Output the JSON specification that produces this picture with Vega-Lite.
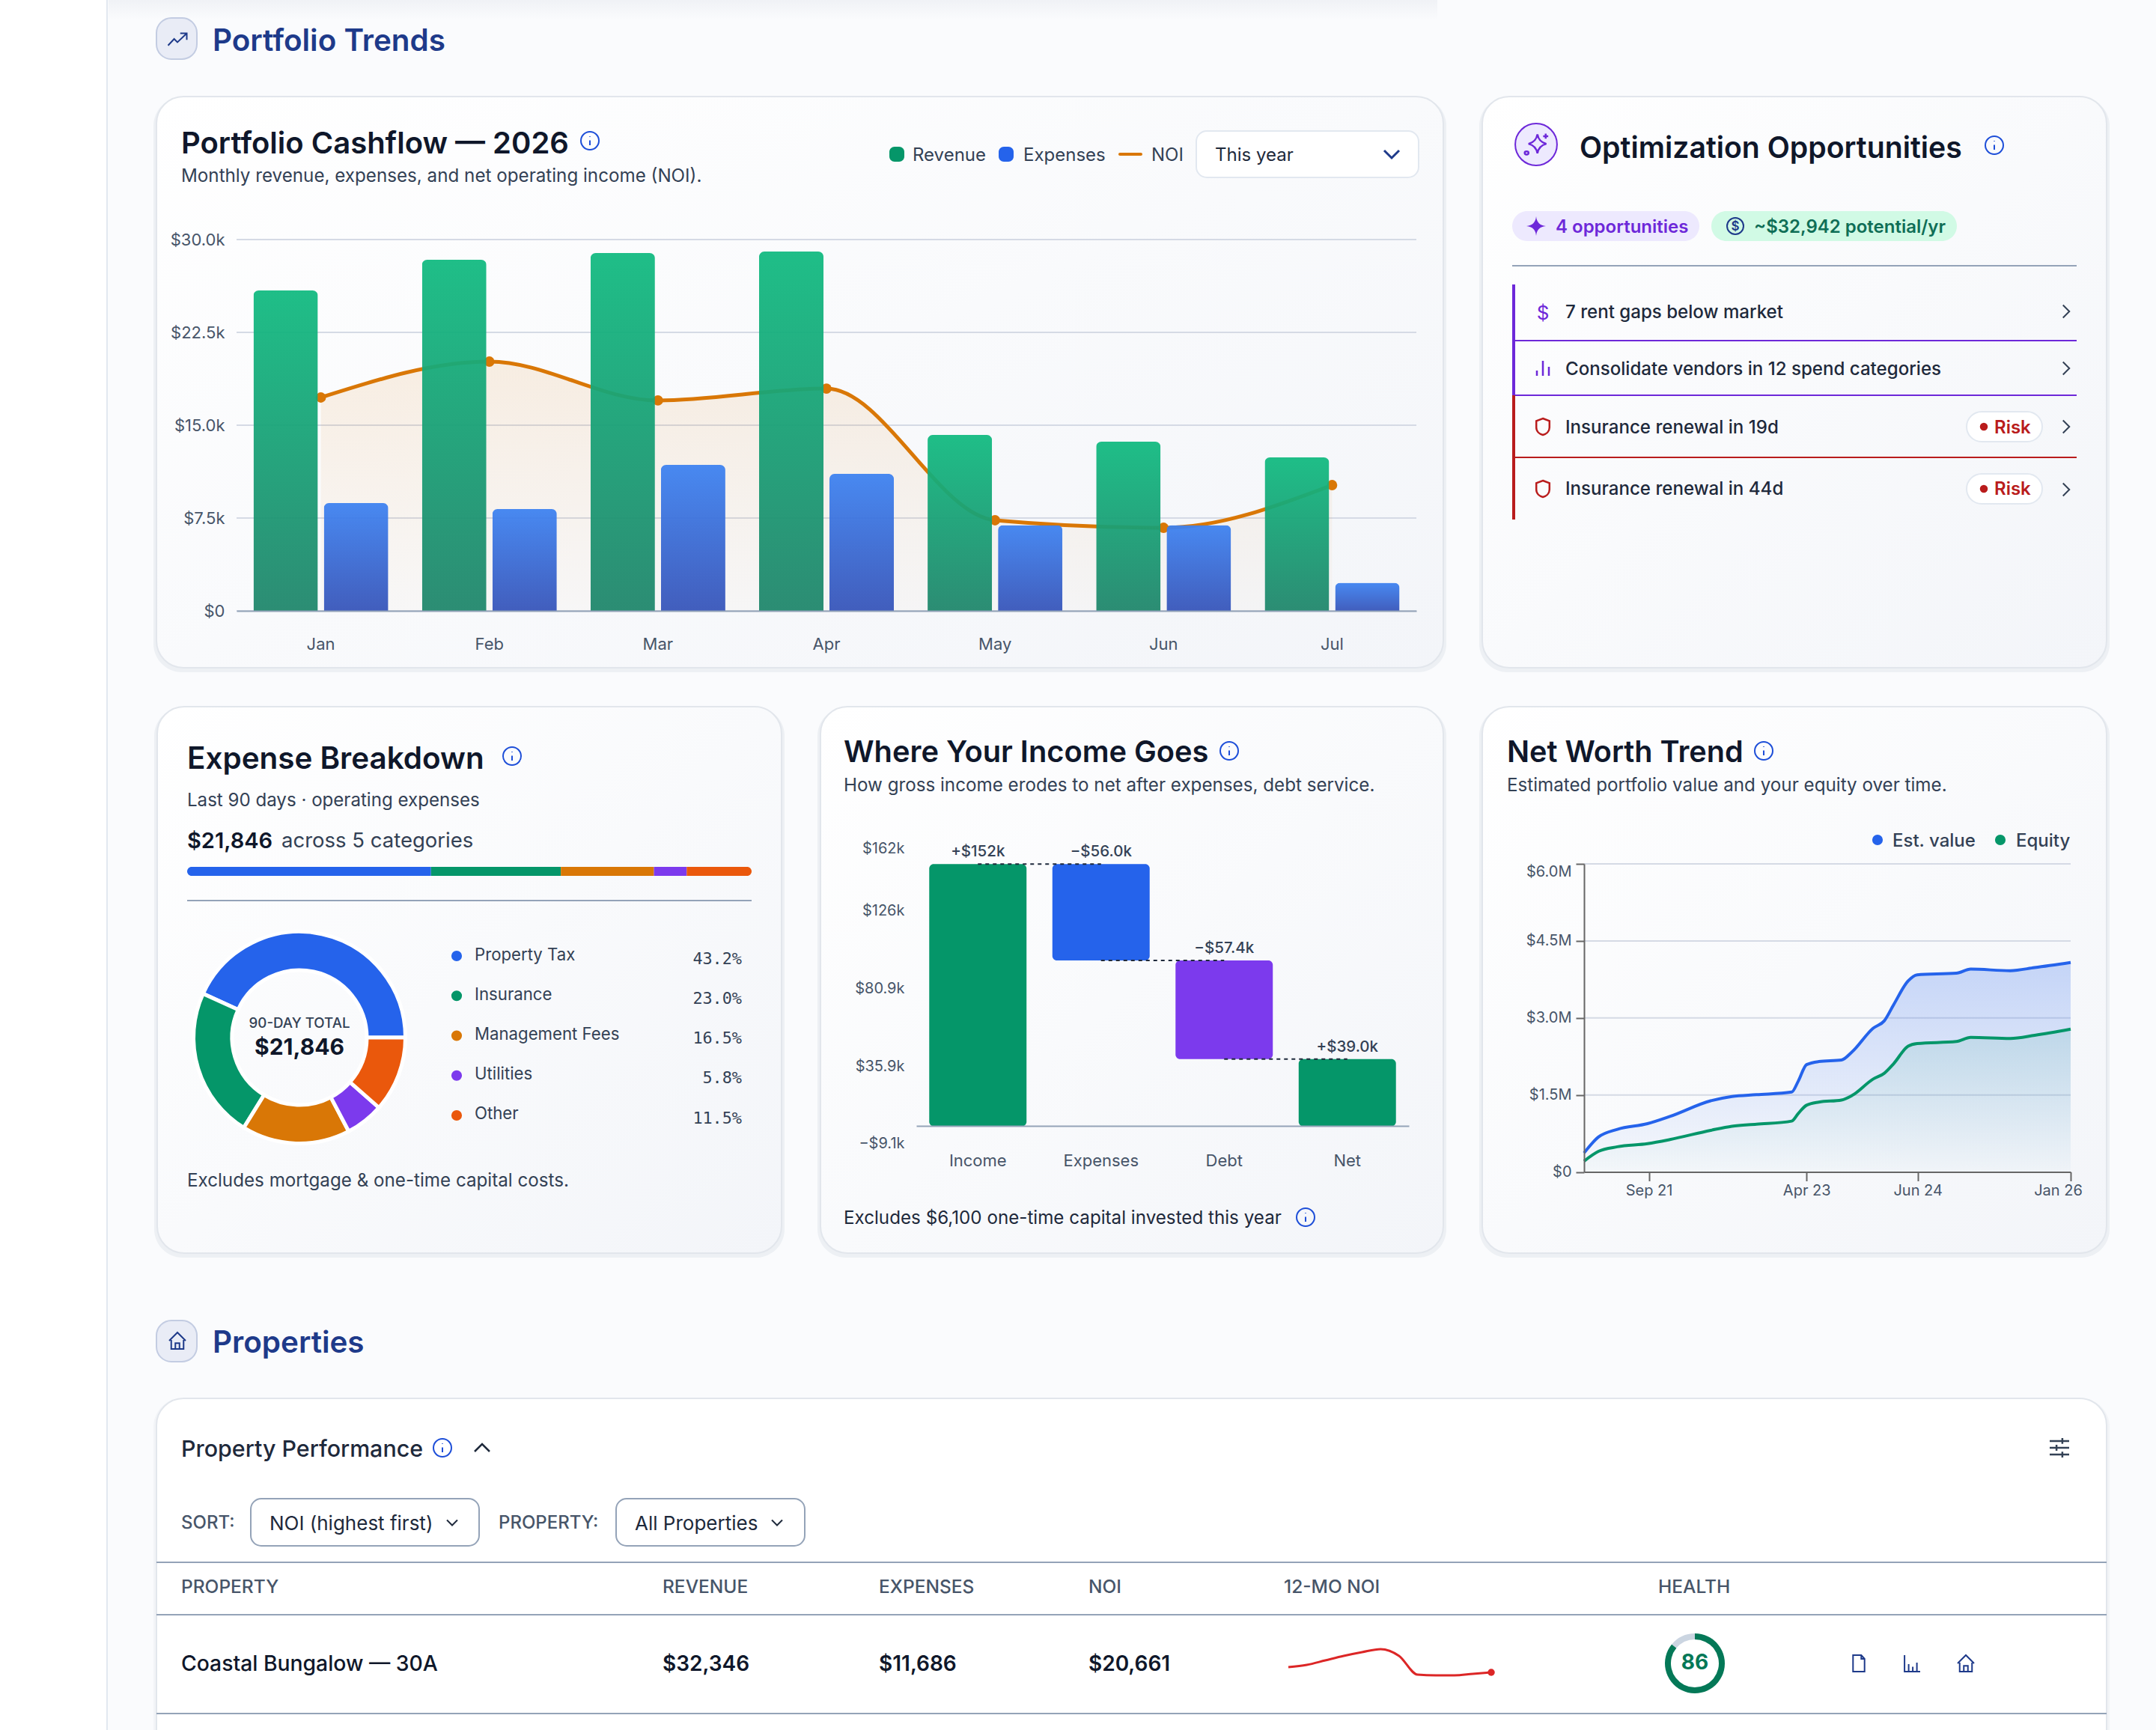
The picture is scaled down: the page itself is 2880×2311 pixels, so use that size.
{
"$schema":"https://vega.github.io/schema/vega-lite/v6.json",
"autosize":"none","padding":0,"width":2880,"height":2311,"background":"#fafbfd",
"config":{"font":"Inter","view":{"stroke":null},"axis":{"labelFont":"Inter"},"text":{"dy":1.5}},
"resolve":{"scale":{"x":"independent","y":"independent","color":"independent","theta":"independent"}},
"datasets":{
"expenses":[
{"category":"Property Tax","share":43.2,"pct":"43.2%","rank":1},
{"category":"Insurance","share":23.0,"pct":"23.0%","rank":2},
{"category":"Management Fees","share":16.5,"pct":"16.5%","rank":3},
{"category":"Utilities","share":5.8,"pct":"5.8%","rank":4},
{"category":"Other","share":11.5,"pct":"11.5%","rank":5}],
"cashflow":[
{"month":"Jan","series":"Revenue","amount":25887},{"month":"Feb","series":"Revenue","amount":28367},{"month":"Mar","series":"Revenue","amount":28911},{"month":"Apr","series":"Revenue","amount":29032},{"month":"May","series":"Revenue","amount":14214},{"month":"Jun","series":"Revenue","amount":13669},{"month":"Jul","series":"Revenue","amount":12399},
{"month":"Jan","series":"Expenses","amount":8710},{"month":"Feb","series":"Expenses","amount":8226},{"month":"Mar","series":"Expenses","amount":11794},{"month":"Apr","series":"Expenses","amount":11069},{"month":"May","series":"Expenses","amount":6925},{"month":"Jun","series":"Expenses","amount":6925},{"month":"Jul","series":"Expenses","amount":2262},
{"month":"Jan","series":"NOI","amount":17238},{"month":"Feb","series":"NOI","amount":20141},{"month":"Mar","series":"NOI","amount":17000},{"month":"Apr","series":"NOI","amount":17960},{"month":"May","series":"NOI","amount":7319},{"month":"Jun","series":"NOI","amount":6713},{"month":"Jul","series":"NOI","amount":10161}],
"networth":[
{"date":"2021-01-15","value":0.37,"equity":0.21},{"date":"2021-03-10","value":0.68,"equity":0.40},{"date":"2021-05-20","value":0.83,"equity":0.49},{"date":"2021-09-10","value":0.94,"equity":0.55},{"date":"2021-12-03","value":1.08,"equity":0.63},{"date":"2022-05-05","value":1.385,"equity":0.81},{"date":"2022-07-24","value":1.47,"equity":0.89},{"date":"2022-10-24","value":1.505,"equity":0.93},{"date":"2023-03-05","value":1.555,"equity":0.99},{"date":"2023-03-30","value":1.77,"equity":1.14},{"date":"2023-04-30","value":2.09,"equity":1.30},{"date":"2023-06-15","value":2.15,"equity":1.36},{"date":"2023-09-08","value":2.18,"equity":1.40},{"date":"2023-10-18","value":2.34,"equity":1.49},{"date":"2024-01-05","value":2.80,"equity":1.81},{"date":"2024-02-15","value":2.94,"equity":1.92},{"date":"2024-03-22","value":3.26,"equity":2.11},{"date":"2024-05-15","value":3.72,"equity":2.45},{"date":"2024-06-18","value":3.84,"equity":2.50},{"date":"2024-11-12","value":3.87,"equity":2.54},{"date":"2025-01-05","value":3.95,"equity":2.62},{"date":"2025-06-02","value":3.92,"equity":2.60},{"date":"2025-09-02","value":3.98,"equity":2.66},{"date":"2026-01-15","value":4.08,"equity":2.78}]
},
"layer":[
{"data":{"values":[{"name":"sidebar"}]},"mark":{"type":"rect","fill":"#ffffff","stroke":"#e2e8f0","strokeWidth":2},"encoding":{"x":{"field":"name","type":"nominal","axis":null,"scale":{"type":"band","range":[-4,143],"padding":0}},"y":{"field":"name","type":"nominal","axis":null,"scale":{"type":"band","range":[-4,2320],"padding":0}}}},
{"data":{"values":[{"name":"header shadow"}]},"mark":{"type":"rect","fill":{"gradient":"linear","x1":0,"y1":0,"x2":0,"y2":1,"stops":[{"offset":0,"color":"#f0f2f6"},{"offset":1,"color":"#fafbfd"}]}},"encoding":{"x":{"field":"name","type":"nominal","axis":null,"scale":{"type":"band","range":[145,1920],"padding":0}},"y":{"field":"name","type":"nominal","axis":null,"scale":{"type":"band","range":[0,26],"padding":0}}}},

{"data":{"values":[{"name":"a"}]},"mark":{"type":"rect","fill":"#94a3b8","opacity":0.12,"cornerRadius":38},"encoding":{"x":{"field":"name","type":"nominal","axis":null,"scale":{"type":"band","range":[205,1932],"padding":0}},"y":{"field":"name","type":"nominal","axis":null,"scale":{"type":"band","range":[130,898],"padding":0}}}},
{"data":{"values":[{"name":"Cashflow card"}]},"mark":{"type":"rect","cornerRadius":36,"stroke":"#e2e6ec","strokeWidth":2,"fill":{"gradient":"linear","x1":0,"y1":0,"x2":1,"y2":1,"stops":[{"offset":0,"color":"#ffffff"},{"offset":1,"color":"#f3f5f9"}]}},"encoding":{"x":{"field":"name","type":"nominal","axis":null,"scale":{"type":"band","range":[209,1928],"padding":0}},"y":{"field":"name","type":"nominal","axis":null,"scale":{"type":"band","range":[129,892],"padding":0}}}},
{"data":{"values":[{"name":"a"}]},"mark":{"type":"rect","fill":"#94a3b8","opacity":0.12,"cornerRadius":38},"encoding":{"x":{"field":"name","type":"nominal","axis":null,"scale":{"type":"band","range":[1976,2818],"padding":0}},"y":{"field":"name","type":"nominal","axis":null,"scale":{"type":"band","range":[130,898],"padding":0}}}},
{"data":{"values":[{"name":"Opportunities card"}]},"mark":{"type":"rect","cornerRadius":36,"stroke":"#e2e6ec","strokeWidth":2,"fill":{"gradient":"linear","x1":0,"y1":0,"x2":1,"y2":1,"stops":[{"offset":0,"color":"#ffffff"},{"offset":1,"color":"#f3f5f9"}]}},"encoding":{"x":{"field":"name","type":"nominal","axis":null,"scale":{"type":"band","range":[1980,2814],"padding":0}},"y":{"field":"name","type":"nominal","axis":null,"scale":{"type":"band","range":[129,892],"padding":0}}}},
{"data":{"values":[{"name":"a"}]},"mark":{"type":"rect","fill":"#94a3b8","opacity":0.12,"cornerRadius":38},"encoding":{"x":{"field":"name","type":"nominal","axis":null,"scale":{"type":"band","range":[206,1048],"padding":0}},"y":{"field":"name","type":"nominal","axis":null,"scale":{"type":"band","range":[945,1680],"padding":0}}}},
{"data":{"values":[{"name":"Expense card"}]},"mark":{"type":"rect","cornerRadius":36,"stroke":"#e2e6ec","strokeWidth":2,"fill":{"gradient":"linear","x1":0,"y1":0,"x2":1,"y2":1,"stops":[{"offset":0,"color":"#ffffff"},{"offset":1,"color":"#f3f5f9"}]}},"encoding":{"x":{"field":"name","type":"nominal","axis":null,"scale":{"type":"band","range":[210,1044],"padding":0}},"y":{"field":"name","type":"nominal","axis":null,"scale":{"type":"band","range":[944,1674],"padding":0}}}},
{"data":{"values":[{"name":"a"}]},"mark":{"type":"rect","fill":"#94a3b8","opacity":0.12,"cornerRadius":38},"encoding":{"x":{"field":"name","type":"nominal","axis":null,"scale":{"type":"band","range":[1092,1932],"padding":0}},"y":{"field":"name","type":"nominal","axis":null,"scale":{"type":"band","range":[945,1680],"padding":0}}}},
{"data":{"values":[{"name":"Income card"}]},"mark":{"type":"rect","cornerRadius":36,"stroke":"#e2e6ec","strokeWidth":2,"fill":{"gradient":"linear","x1":0,"y1":0,"x2":1,"y2":1,"stops":[{"offset":0,"color":"#ffffff"},{"offset":1,"color":"#f3f5f9"}]}},"encoding":{"x":{"field":"name","type":"nominal","axis":null,"scale":{"type":"band","range":[1096,1928],"padding":0}},"y":{"field":"name","type":"nominal","axis":null,"scale":{"type":"band","range":[944,1674],"padding":0}}}},
{"data":{"values":[{"name":"a"}]},"mark":{"type":"rect","fill":"#94a3b8","opacity":0.12,"cornerRadius":38},"encoding":{"x":{"field":"name","type":"nominal","axis":null,"scale":{"type":"band","range":[1976,2818],"padding":0}},"y":{"field":"name","type":"nominal","axis":null,"scale":{"type":"band","range":[945,1680],"padding":0}}}},
{"data":{"values":[{"name":"Net worth card"}]},"mark":{"type":"rect","cornerRadius":36,"stroke":"#e2e6ec","strokeWidth":2,"fill":{"gradient":"linear","x1":0,"y1":0,"x2":1,"y2":1,"stops":[{"offset":0,"color":"#ffffff"},{"offset":1,"color":"#f3f5f9"}]}},"encoding":{"x":{"field":"name","type":"nominal","axis":null,"scale":{"type":"band","range":[1980,2814],"padding":0}},"y":{"field":"name","type":"nominal","axis":null,"scale":{"type":"band","range":[944,1674],"padding":0}}}},
{"data":{"values":[{"name":"a"}]},"mark":{"type":"rect","fill":"#94a3b8","opacity":0.08,"cornerRadius":38},"encoding":{"x":{"field":"name","type":"nominal","axis":null,"scale":{"type":"band","range":[205,2818],"padding":0}},"y":{"field":"name","type":"nominal","axis":null,"scale":{"type":"band","range":[1868,2360],"padding":0}}}},
{"data":{"values":[{"name":"Property card"}]},"mark":{"type":"rect","cornerRadius":36,"stroke":"#e2e6ec","strokeWidth":2,"fill":"#ffffff"},"encoding":{"x":{"field":"name","type":"nominal","axis":null,"scale":{"type":"band","range":[209,2814],"padding":0}},"y":{"field":"name","type":"nominal","axis":null,"scale":{"type":"band","range":[1868,2360],"padding":0}}}},

{"data":{"values":[{"name":"Portfolio Trends icon"}]},"mark":{"type":"rect","cornerRadius":20,"fill":"#e9ecf6","stroke":"#c3cce2","strokeWidth":2},"encoding":{"x":{"field":"name","type":"nominal","axis":null,"scale":{"type":"band","range":[209,263],"padding":0}},"y":{"field":"name","type":"nominal","axis":null,"scale":{"type":"band","range":[24,79],"padding":0}}}},
{"data":{"values":[{"name":"trend"}]},"mark":{"type":"point","shape":"M-1,0.7L-0.35,0L0,0.35L1,-0.6M0.3,-0.6L1,-0.6L1,0.1","size":625,"filled":false,"opacity":1,"stroke":"#1e3a8a","strokeWidth":2},"encoding":{"x":{"field":"name","type":"nominal","axis":null,"scale":{"range":[237,237]}},"y":{"field":"name","type":"nominal","axis":null,"scale":{"range":[52,52]}}}},
{"data":{"values":[{"label":"Portfolio Trends"}]},"mark":{"type":"text","align":"left","baseline":"alphabetic","fontSize":40.4,"fontWeight":600,"color":"#1e3a8a"},"encoding":{"x":{"field":"label","type":"nominal","axis":null,"scale":{"range":[284,284]}},"y":{"field":"label","type":"nominal","axis":null,"scale":{"range":[66,66]}},"text":{"field":"label"}}},

{"data":{"values":[{"label":"Portfolio Cashflow — 2026"}]},"mark":{"type":"text","align":"left","baseline":"alphabetic","fontSize":40,"fontWeight":600,"color":"#0f172a"},"encoding":{"x":{"field":"label","type":"nominal","axis":null,"scale":{"range":[242,242]}},"y":{"field":"label","type":"nominal","axis":null,"scale":{"range":[203,203]}},"text":{"field":"label"}}},
{"data":{"values":[{"name":"info"}]},"mark":{"type":"point","shape":"M-1,0C-1,-0.55 -0.55,-1 0,-1C0.55,-1 1,-0.55 1,0C1,0.55 0.55,1 0,1C-0.55,1 -1,0.55 -1,0ZM0,-0.05L0,0.5M0,-0.48L0,-0.42","size":576,"filled":false,"opacity":1,"stroke":"#1d4ed8","strokeWidth":2},"encoding":{"x":{"field":"name","type":"nominal","axis":null,"scale":{"range":[788,788]}},"y":{"field":"name","type":"nominal","axis":null,"scale":{"range":[188,188]}}}},
{"data":{"values":[{"label":"Monthly revenue, expenses, and net operating income (NOI)."}]},"mark":{"type":"text","align":"left","baseline":"middle","fontSize":24.2,"color":"#334155"},"encoding":{"x":{"field":"label","type":"nominal","axis":null,"scale":{"range":[242,242]}},"y":{"field":"label","type":"nominal","axis":null,"scale":{"range":[234,234]}},"text":{"field":"label"}}},

{"data":{"values":[{"name":"Revenue"}]},"mark":{"type":"rect","cornerRadius":7,"fill":"#059669"},"encoding":{"x":{"field":"name","type":"nominal","axis":null,"scale":{"type":"band","range":[1188,1208],"padding":0}},"y":{"field":"name","type":"nominal","axis":null,"scale":{"type":"band","range":[196,216],"padding":0}}}},
{"data":{"values":[{"label":"Revenue"}]},"mark":{"type":"text","align":"left","baseline":"middle","fontSize":24,"color":"#334155"},"encoding":{"x":{"field":"label","type":"nominal","axis":null,"scale":{"range":[1219,1219]}},"y":{"field":"label","type":"nominal","axis":null,"scale":{"range":[206,206]}},"text":{"field":"label"}}},
{"data":{"values":[{"name":"Expenses"}]},"mark":{"type":"rect","cornerRadius":7,"fill":"#2563eb"},"encoding":{"x":{"field":"name","type":"nominal","axis":null,"scale":{"type":"band","range":[1334,1354],"padding":0}},"y":{"field":"name","type":"nominal","axis":null,"scale":{"type":"band","range":[196,216],"padding":0}}}},
{"data":{"values":[{"label":"Expenses"}]},"mark":{"type":"text","align":"left","baseline":"middle","fontSize":24,"color":"#334155"},"encoding":{"x":{"field":"label","type":"nominal","axis":null,"scale":{"range":[1367,1367]}},"y":{"field":"label","type":"nominal","axis":null,"scale":{"range":[206,206]}},"text":{"field":"label"}}},
{"data":{"values":[{"name":"NOI"}]},"mark":{"type":"rect","cornerRadius":2,"fill":"#d97706"},"encoding":{"x":{"field":"name","type":"nominal","axis":null,"scale":{"type":"band","range":[1494,1526],"padding":0}},"y":{"field":"name","type":"nominal","axis":null,"scale":{"type":"band","range":[204,208],"padding":0}}}},
{"data":{"values":[{"label":"NOI"}]},"mark":{"type":"text","align":"left","baseline":"middle","fontSize":24,"color":"#334155"},"encoding":{"x":{"field":"label","type":"nominal","axis":null,"scale":{"range":[1538,1538]}},"y":{"field":"label","type":"nominal","axis":null,"scale":{"range":[206,206]}},"text":{"field":"label"}}},
{"data":{"values":[{"name":"This year box"}]},"mark":{"type":"rect","cornerRadius":14,"fill":"#ffffff","stroke":"#e2e8f0","strokeWidth":2},"encoding":{"x":{"field":"name","type":"nominal","axis":null,"scale":{"type":"band","range":[1598,1895],"padding":0}},"y":{"field":"name","type":"nominal","axis":null,"scale":{"type":"band","range":[175,237],"padding":0}}}},
{"data":{"values":[{"label":"This year"}]},"mark":{"type":"text","align":"left","baseline":"middle","fontSize":24,"color":"#1e293b"},"encoding":{"x":{"field":"label","type":"nominal","axis":null,"scale":{"range":[1623,1623]}},"y":{"field":"label","type":"nominal","axis":null,"scale":{"range":[206,206]}},"text":{"field":"label"}}},
{"data":{"values":[{"name":"chevron"}]},"mark":{"type":"point","shape":"M-1,-0.5L0,0.5L1,-0.5","size":400,"filled":false,"opacity":1,"stroke":"#1e3a8a","strokeWidth":3},"encoding":{"x":{"field":"name","type":"nominal","axis":null,"scale":{"range":[1859,1859]}},"y":{"field":"name","type":"nominal","axis":null,"scale":{"range":[206,206]}}}},

{"data":{"values":[{"tick":0},{"tick":7500},{"tick":15000},{"tick":22500},{"tick":30000}]},"mark":{"type":"rule","color":"#d5dae5","strokeWidth":2},"encoding":{"x":{"datum":0,"type":"quantitative","axis":null,"scale":{"domain":[0,1],"range":[316,1892]}},"x2":{"datum":1},"y":{"field":"tick","type":"quantitative","axis":null,"scale":{"domain":[0,30000],"range":[816,320]}}}},
{"data":{"name":"cashflow"},
"encoding":{
"x":{"field":"month","type":"nominal","sort":null,"title":null,"scale":{"type":"band","range":[316,1892],"paddingInner":0.2,"paddingOuter":0.1},"axis":{"orient":"bottom","offset":-1495,"zindex":1,"labelAngle":0,"labelPadding":34,"labelFontSize":22,"labelColor":"#475569","ticks":false,"domainColor":"#94a3b8","domainWidth":2}},
"y":{"field":"amount","type":"quantitative","title":null,"scale":{"domain":[0,30000],"range":[816,320],"nice":false},"axis":{"orient":"left","offset":-316,"zindex":1,"grid":false,"domain":false,"ticks":false,"labelPadding":16,"labelFontSize":22,"labelColor":"#475569","values":[0,7500,15000,22500,30000],"labelExpr":"datum.value==0?'$0':'$'+format(datum.value/1000,'.1f')+'k'"}}},
"layer":[
{"transform":[{"filter":"datum.series=='NOI'"}],"mark":{"type":"area","interpolate":"monotone","fill":{"gradient":"linear","x1":0,"y1":0,"x2":0,"y2":1,"stops":[{"offset":0,"color":"rgba(217,119,6,0.11)"},{"offset":1,"color":"rgba(217,119,6,0.02)"}]}}},
{"transform":[{"filter":"datum.series=='NOI'"}],"mark":{"type":"line","interpolate":"monotone","color":"#d97706","strokeWidth":5}},
{"transform":[{"filter":"datum.series=='NOI'"}],"mark":{"type":"point","filled":true,"color":"#d97706","size":190,"opacity":1}},
{"transform":[{"filter":"datum.series=='Revenue'"}],"mark":{"type":"bar","opacity":0.94,"cornerRadiusTopLeft":7,"cornerRadiusTopRight":7,"fill":{"gradient":"linear","x1":0,"y1":0,"x2":0,"y2":1,"stops":[{"offset":0,"color":"#11ba80"},{"offset":1,"color":"#1f866b"}]}},"encoding":{"xOffset":{"field":"series","type":"nominal","scale":{"domain":["Revenue","Expenses"],"paddingInner":0.085,"paddingOuter":0}}}},
{"transform":[{"filter":"datum.series=='Expenses'"}],"mark":{"type":"bar","opacity":0.94,"cornerRadiusTopLeft":7,"cornerRadiusTopRight":7,"fill":{"gradient":"linear","x1":0,"y1":0,"x2":0,"y2":1,"stops":[{"offset":0,"color":"#3d82f1"},{"offset":1,"color":"#3654b9"}]}},"encoding":{"xOffset":{"field":"series","type":"nominal","scale":{"domain":["Revenue","Expenses"],"paddingInner":0.085,"paddingOuter":0}}}}
]},

{"data":{"values":[{"name":"Opportunity icon"}]},"mark":{"type":"circle","size":3117,"fill":"#ede9fe","stroke":"#6d28d9","strokeWidth":2,"opacity":1},"encoding":{"x":{"field":"name","type":"nominal","axis":null,"scale":{"range":[2052,2052]}},"y":{"field":"name","type":"nominal","axis":null,"scale":{"range":[193,193]}}}},
{"data":{"values":[{"name":"sparkle"}]},"mark":{"type":"point","shape":"M0.1,-0.8Q0.2,-0.2 0.8,-0.05Q0.2,0.1 0.1,0.7Q0,0.1 -0.6,-0.05Q0,-0.2 0.1,-0.8ZM0.75,-0.85L0.75,-0.45M0.55,-0.65L0.95,-0.65M-0.9,0.65C-0.9,0.5 -0.6,0.5 -0.6,0.65C-0.6,0.85 -0.9,0.85 -0.9,0.65Z","size":1156,"filled":false,"opacity":1,"stroke":"#6d28d9","strokeWidth":2.5},"encoding":{"x":{"field":"name","type":"nominal","axis":null,"scale":{"range":[2052,2052]}},"y":{"field":"name","type":"nominal","axis":null,"scale":{"range":[193,193]}}}},
{"data":{"values":[{"label":"Optimization Opportunities"}]},"mark":{"type":"text","align":"left","baseline":"alphabetic","fontSize":39.2,"fontWeight":600,"color":"#0f172a"},"encoding":{"x":{"field":"label","type":"nominal","axis":null,"scale":{"range":[2110,2110]}},"y":{"field":"label","type":"nominal","axis":null,"scale":{"range":[209,209]}},"text":{"field":"label"}}},
{"data":{"values":[{"name":"info"}]},"mark":{"type":"point","shape":"M-1,0C-1,-0.55 -0.55,-1 0,-1C0.55,-1 1,-0.55 1,0C1,0.55 0.55,1 0,1C-0.55,1 -1,0.55 -1,0ZM0,-0.05L0,0.5M0,-0.48L0,-0.42","size":576,"filled":false,"opacity":1,"stroke":"#1d4ed8","strokeWidth":2},"encoding":{"x":{"field":"name","type":"nominal","axis":null,"scale":{"range":[2664,2664]}},"y":{"field":"name","type":"nominal","axis":null,"scale":{"range":[194,194]}}}},
{"data":{"values":[{"name":"opportunities pill"}]},"mark":{"type":"rect","cornerRadius":20,"fill":"#ede9fe"},"encoding":{"x":{"field":"name","type":"nominal","axis":null,"scale":{"type":"band","range":[2020,2270],"padding":0}},"y":{"field":"name","type":"nominal","axis":null,"scale":{"type":"band","range":[282,322],"padding":0}}}},
{"data":{"values":[{"name":"star"}]},"mark":{"type":"point","shape":"M0,-1Q0.08,-0.08 1,0Q0.08,0.08 0,1Q-0.08,0.08 -1,0Q-0.08,-0.08 0,-1Z","size":676,"filled":true,"opacity":1,"color":"#6d28d9"},"encoding":{"x":{"field":"name","type":"nominal","axis":null,"scale":{"range":[2052,2052]}},"y":{"field":"name","type":"nominal","axis":null,"scale":{"range":[302,302]}}}},
{"data":{"values":[{"label":"4 opportunities"}]},"mark":{"type":"text","align":"left","baseline":"middle","fontSize":24,"fontWeight":600,"color":"#6d28d9"},"encoding":{"x":{"field":"label","type":"nominal","axis":null,"scale":{"range":[2078,2078]}},"y":{"field":"label","type":"nominal","axis":null,"scale":{"range":[302,302]}},"text":{"field":"label"}}},
{"data":{"values":[{"name":"potential pill"}]},"mark":{"type":"rect","cornerRadius":20,"fill":"#d1fae5"},"encoding":{"x":{"field":"name","type":"nominal","axis":null,"scale":{"type":"band","range":[2286,2614],"padding":0}},"y":{"field":"name","type":"nominal","axis":null,"scale":{"type":"band","range":[282,322],"padding":0}}}},
{"data":{"values":[{"name":"dollar ring"}]},"mark":{"type":"point","shape":"M-1,0C-1,-0.55 -0.55,-1 0,-1C0.55,-1 1,-0.55 1,0C1,0.55 0.55,1 0,1C-0.55,1 -1,0.55 -1,0Z","size":484,"filled":false,"opacity":1,"stroke":"#1e3a8a","strokeWidth":2},"encoding":{"x":{"field":"name","type":"nominal","axis":null,"scale":{"range":[2318,2318]}},"y":{"field":"name","type":"nominal","axis":null,"scale":{"range":[302,302]}}}},
{"data":{"values":[{"label":"$"}]},"mark":{"type":"text","align":"center","baseline":"middle","fontSize":17,"fontWeight":600,"color":"#1e3a8a"},"encoding":{"x":{"field":"label","type":"nominal","axis":null,"scale":{"range":[2318,2318]}},"y":{"field":"label","type":"nominal","axis":null,"scale":{"range":[301,301]}},"text":{"field":"label"}}},
{"data":{"values":[{"label":"~$32,942 potential/yr"}]},"mark":{"type":"text","align":"left","baseline":"middle","fontSize":24,"fontWeight":600,"color":"#0f6e56"},"encoding":{"x":{"field":"label","type":"nominal","axis":null,"scale":{"range":[2343,2343]}},"y":{"field":"label","type":"nominal","axis":null,"scale":{"range":[302,302]}},"text":{"field":"label"}}},
{"data":{"values":[{"name":"divider"}]},"mark":{"type":"rect","fill":"#94a3b8"},"encoding":{"x":{"field":"name","type":"nominal","axis":null,"scale":{"type":"band","range":[2020,2774],"padding":0}},"y":{"field":"name","type":"nominal","axis":null,"scale":{"type":"band","range":[354,356],"padding":0}}}},
{"data":{"values":[{"name":"purple edge"}]},"mark":{"type":"rect","fill":"#6d28d9"},"encoding":{"x":{"field":"name","type":"nominal","axis":null,"scale":{"type":"band","range":[2020,2024],"padding":0}},"y":{"field":"name","type":"nominal","axis":null,"scale":{"type":"band","range":[380,528],"padding":0}}}},
{"data":{"values":[{"name":"red edge"}]},"mark":{"type":"rect","fill":"#b91c1c"},"encoding":{"x":{"field":"name","type":"nominal","axis":null,"scale":{"type":"band","range":[2020,2024],"padding":0}},"y":{"field":"name","type":"nominal","axis":null,"scale":{"type":"band","range":[528,694],"padding":0}}}},
{"data":{"values":[{"name":"line one"}]},"mark":{"type":"rect","fill":"#6d28d9"},"encoding":{"x":{"field":"name","type":"nominal","axis":null,"scale":{"type":"band","range":[2024,2774],"padding":0}},"y":{"field":"name","type":"nominal","axis":null,"scale":{"type":"band","range":[454,456],"padding":0}}}},
{"data":{"values":[{"name":"line two"}]},"mark":{"type":"rect","fill":"#6d28d9"},"encoding":{"x":{"field":"name","type":"nominal","axis":null,"scale":{"type":"band","range":[2024,2774],"padding":0}},"y":{"field":"name","type":"nominal","axis":null,"scale":{"type":"band","range":[527,529],"padding":0}}}},
{"data":{"values":[{"name":"line three"}]},"mark":{"type":"rect","fill":"#b91c1c"},"encoding":{"x":{"field":"name","type":"nominal","axis":null,"scale":{"type":"band","range":[2024,2774],"padding":0}},"y":{"field":"name","type":"nominal","axis":null,"scale":{"type":"band","range":[610,612],"padding":0}}}},
{"data":{"values":[{"label":"$"}]},"mark":{"type":"text","align":"center","baseline":"middle","fontSize":26,"color":"#6d28d9"},"encoding":{"x":{"field":"label","type":"nominal","axis":null,"scale":{"range":[2061,2061]}},"y":{"field":"label","type":"nominal","axis":null,"scale":{"range":[417,417]}},"text":{"field":"label"}}},
{"data":{"values":[{"name":"bars"}]},"mark":{"type":"point","shape":"M-0.8,1L-0.8,0.3M0,1L0,-1M0.8,1L0.8,-0.2","size":400,"filled":false,"opacity":1,"stroke":"#6d28d9","strokeWidth":2.5},"encoding":{"x":{"field":"name","type":"nominal","axis":null,"scale":{"range":[2061,2061]}},"y":{"field":"name","type":"nominal","axis":null,"scale":{"range":[492,492]}}}},
{"data":{"values":[{"name":"shield"},{"name":"shield 2"}]},"mark":{"type":"point","shape":"M0,-1L0.8,-0.7L0.8,0.1C0.8,0.6 0.4,0.9 0,1C-0.4,0.9 -0.8,0.6 -0.8,0.1L-0.8,-0.7Z","size":484,"filled":false,"opacity":1,"stroke":"#b91c1c","strokeWidth":2.5},"encoding":{"x":{"field":"name","type":"nominal","axis":null,"scale":{"range":[2061,2061]}},"y":{"field":"name","type":"nominal","axis":null,"scale":{"type":"point","padding":0,"range":[570,653]}}}},
{"data":{"values":[{"label":"7 rent gaps below market"}]},"mark":{"type":"text","align":"left","baseline":"middle","fontSize":24.1,"fontWeight":500,"color":"#1e293b"},"encoding":{"x":{"field":"label","type":"nominal","axis":null,"scale":{"range":[2091,2091]}},"y":{"field":"label","type":"nominal","axis":null,"scale":{"range":[416,416]}},"text":{"field":"label"}}},
{"data":{"values":[{"label":"Consolidate vendors in 12 spend categories"}]},"mark":{"type":"text","align":"left","baseline":"middle","fontSize":24.1,"fontWeight":500,"color":"#1e293b"},"encoding":{"x":{"field":"label","type":"nominal","axis":null,"scale":{"range":[2091,2091]}},"y":{"field":"label","type":"nominal","axis":null,"scale":{"range":[492,492]}},"text":{"field":"label"}}},
{"data":{"values":[{"label":"Insurance renewal in 19d"}]},"mark":{"type":"text","align":"left","baseline":"middle","fontSize":24.1,"fontWeight":500,"color":"#1e293b"},"encoding":{"x":{"field":"label","type":"nominal","axis":null,"scale":{"range":[2091,2091]}},"y":{"field":"label","type":"nominal","axis":null,"scale":{"range":[570,570]}},"text":{"field":"label"}}},
{"data":{"values":[{"label":"Insurance renewal in 44d"}]},"mark":{"type":"text","align":"left","baseline":"middle","fontSize":24.1,"fontWeight":500,"color":"#1e293b"},"encoding":{"x":{"field":"label","type":"nominal","axis":null,"scale":{"range":[2091,2091]}},"y":{"field":"label","type":"nominal","axis":null,"scale":{"range":[652,652]}},"text":{"field":"label"}}},
{"data":{"values":[{"name":"risk pill"}]},"mark":{"type":"rect","cornerRadius":20,"fill":"#ffffff","stroke":"#e2e8f0","strokeWidth":2},"encoding":{"x":{"field":"name","type":"nominal","axis":null,"scale":{"type":"band","range":[2627,2728],"padding":0}},"y":{"field":"name","type":"nominal","axis":null,"scale":{"type":"band","range":[550,590],"padding":0}}}},
{"data":{"values":[{"name":"risk pill 2"}]},"mark":{"type":"rect","cornerRadius":20,"fill":"#ffffff","stroke":"#e2e8f0","strokeWidth":2},"encoding":{"x":{"field":"name","type":"nominal","axis":null,"scale":{"type":"band","range":[2627,2728],"padding":0}},"y":{"field":"name","type":"nominal","axis":null,"scale":{"type":"band","range":[633,673],"padding":0}}}},
{"data":{"values":[{"name":"a"},{"name":"b"}]},"mark":{"type":"circle","size":110,"color":"#b91c1c","opacity":1},"encoding":{"x":{"field":"name","type":"nominal","axis":null,"scale":{"range":[2650,2650]}},"y":{"field":"name","type":"nominal","axis":null,"scale":{"type":"point","padding":0,"range":[570,653]}}}},
{"data":{"values":[{"row":"a","label":"Risk"},{"row":"b","label":"Risk"}]},"mark":{"type":"text","align":"left","baseline":"middle","fontSize":24,"fontWeight":600,"color":"#b91c1c"},"encoding":{"x":{"field":"row","type":"nominal","axis":null,"scale":{"range":[2664,2664]}},"y":{"field":"row","type":"nominal","axis":null,"scale":{"type":"point","padding":0,"range":[570,652]}},"text":{"field":"label"}}},
{"data":{"values":[{"name":"a"},{"name":"b"}]},"mark":{"type":"point","shape":"M-0.5,-1L0.5,0L-0.5,1","size":289,"filled":false,"opacity":1,"stroke":"#334155","strokeWidth":2},"encoding":{"x":{"field":"name","type":"nominal","axis":null,"scale":{"range":[2760,2760]}},"y":{"field":"name","type":"nominal","axis":null,"scale":{"type":"point","padding":0,"range":[416,492]}}}},
{"data":{"values":[{"name":"c"},{"name":"d"}]},"mark":{"type":"point","shape":"M-0.5,-1L0.5,0L-0.5,1","size":289,"filled":false,"opacity":1,"stroke":"#334155","strokeWidth":2},"encoding":{"x":{"field":"name","type":"nominal","axis":null,"scale":{"range":[2760,2760]}},"y":{"field":"name","type":"nominal","axis":null,"scale":{"type":"point","padding":0,"range":[570,654]}}}},

{"data":{"values":[{"label":"Expense Breakdown"}]},"mark":{"type":"text","align":"left","baseline":"alphabetic","fontSize":40.4,"fontWeight":600,"color":"#0f172a"},"encoding":{"x":{"field":"label","type":"nominal","axis":null,"scale":{"range":[250,250]}},"y":{"field":"label","type":"nominal","axis":null,"scale":{"range":[1025,1025]}},"text":{"field":"label"}}},
{"data":{"values":[{"name":"info"}]},"mark":{"type":"point","shape":"M-1,0C-1,-0.55 -0.55,-1 0,-1C0.55,-1 1,-0.55 1,0C1,0.55 0.55,1 0,1C-0.55,1 -1,0.55 -1,0ZM0,-0.05L0,0.5M0,-0.48L0,-0.42","size":576,"filled":false,"opacity":1,"stroke":"#1d4ed8","strokeWidth":2},"encoding":{"x":{"field":"name","type":"nominal","axis":null,"scale":{"range":[684,684]}},"y":{"field":"name","type":"nominal","axis":null,"scale":{"range":[1010,1010]}}}},
{"data":{"values":[{"label":"Last 90 days · operating expenses"}]},"mark":{"type":"text","align":"left","baseline":"middle","fontSize":24.1,"color":"#334155"},"encoding":{"x":{"field":"label","type":"nominal","axis":null,"scale":{"range":[250,250]}},"y":{"field":"label","type":"nominal","axis":null,"scale":{"range":[1068,1068]}},"text":{"field":"label"}}},
{"data":{"values":[{"label":"$21,846"}]},"mark":{"type":"text","align":"left","baseline":"middle","fontSize":29,"fontWeight":600,"color":"#0f172a"},"encoding":{"x":{"field":"label","type":"nominal","axis":null,"scale":{"range":[250,250]}},"y":{"field":"label","type":"nominal","axis":null,"scale":{"range":[1122.5,1122.5]}},"text":{"field":"label"}}},
{"data":{"values":[{"label":"across 5 categories"}]},"mark":{"type":"text","align":"left","baseline":"middle","fontSize":27.5,"color":"#334155"},"encoding":{"x":{"field":"label","type":"nominal","axis":null,"scale":{"range":[376,376]}},"y":{"field":"label","type":"nominal","axis":null,"scale":{"range":[1122.5,1122.5]}},"text":{"field":"label"}}},
{"data":{"values":[
{"bar":"share","category":"Property Tax","start":0,"end":43.2},
{"bar":"share","category":"Insurance","start":43.2,"end":66.2},
{"bar":"share","category":"Management Fees","start":66.2,"end":82.7},
{"bar":"share","category":"Utilities","start":82.7,"end":88.5},
{"bar":"share","category":"Other","start":88.5,"end":100}]},
"encoding":{"x":{"field":"start","type":"quantitative","axis":null,"scale":{"domain":[0,100],"range":[250,1004]}},"x2":{"field":"end"},"y":{"field":"bar","type":"nominal","axis":null,"scale":{"type":"band","range":[1158,1170],"padding":0}},
"color":{"field":"category","type":"nominal","legend":null,"scale":{"domain":["Property Tax","Insurance","Management Fees","Utilities","Other"],"range":["#2563eb","#059669","#d97706","#7c3aed","#ea580c"]}}},
"layer":[
{"transform":[{"filter":"datum.category=='Property Tax'"}],"mark":{"type":"rect","cornerRadiusTopLeft":6,"cornerRadiusBottomLeft":6}},
{"transform":[{"filter":"datum.category!='Property Tax'&&datum.category!='Other'"}],"mark":{"type":"rect"}},
{"transform":[{"filter":"datum.category=='Other'"}],"mark":{"type":"rect","cornerRadiusTopRight":6,"cornerRadiusBottomRight":6}}
]},
{"data":{"values":[{"name":"divider"}]},"mark":{"type":"rect","fill":"#94a3b8"},"encoding":{"x":{"field":"name","type":"nominal","axis":null,"scale":{"type":"band","range":[250,1004],"padding":0}},"y":{"field":"name","type":"nominal","axis":null,"scale":{"type":"band","range":[1202,1204],"padding":0}}}},
{"data":{"name":"expenses"},"mark":{"type":"arc","radius":141.5,"radius2":90,"stroke":"#ffffff","strokeWidth":5},"encoding":{"theta":{"field":"share","type":"quantitative","scale":{"domain":[0,100],"range":[1.5708,-4.7124]}},"order":{"field":"rank"},"color":{"field":"category","type":"nominal","legend":null,"scale":{"domain":["Property Tax","Insurance","Management Fees","Utilities","Other"],"range":["#2563eb","#059669","#d97706","#7c3aed","#ea580c"]}},"x":{"field":"category","type":"nominal","axis":null,"scale":{"type":"point","range":[400,400]}},"y":{"field":"category","type":"nominal","axis":null,"scale":{"type":"point","range":[1386,1386]}}}},
{"data":{"values":[{"label":"90-DAY TOTAL"}]},"mark":{"type":"text","align":"center","baseline":"middle","fontSize":18.7,"fontWeight":500,"color":"#334155"},"encoding":{"x":{"field":"label","type":"nominal","axis":null,"scale":{"range":[400,400]}},"y":{"field":"label","type":"nominal","axis":null,"scale":{"range":[1365,1365]}},"text":{"field":"label"}}},
{"data":{"values":[{"label":"$21,846"}]},"mark":{"type":"text","align":"center","baseline":"middle","fontSize":30,"fontWeight":700,"color":"#0f172a"},"encoding":{"x":{"field":"label","type":"nominal","axis":null,"scale":{"range":[400,400]}},"y":{"field":"label","type":"nominal","axis":null,"scale":{"range":[1398,1398]}},"text":{"field":"label"}}},
{"data":{"name":"expenses"},"mark":{"type":"circle","size":200,"opacity":1},"encoding":{"x":{"field":"category","type":"nominal","axis":null,"scale":{"type":"point","range":[610,610]}},"y":{"field":"category","type":"nominal","axis":null,"scale":{"type":"point","padding":0,"domain":["Property Tax","Insurance","Management Fees","Utilities","Other"],"range":[1277,1490]}},"color":{"field":"category","type":"nominal","legend":null,"scale":{"domain":["Property Tax","Insurance","Management Fees","Utilities","Other"],"range":["#2563eb","#059669","#d97706","#7c3aed","#ea580c"]}}}},
{"data":{"name":"expenses"},"mark":{"type":"text","align":"left","baseline":"middle","fontSize":22.2,"color":"#334155"},"encoding":{"x":{"field":"category","type":"nominal","axis":null,"scale":{"type":"point","range":[634,634]}},"y":{"field":"category","type":"nominal","axis":null,"scale":{"type":"point","padding":0,"domain":["Property Tax","Insurance","Management Fees","Utilities","Other"],"range":[1274,1486]}},"text":{"field":"category"}}},
{"data":{"name":"expenses"},"mark":{"type":"text","align":"right","baseline":"middle","font":"DejaVu Sans Mono","fontSize":21.8,"color":"#334155"},"encoding":{"x":{"field":"category","type":"nominal","axis":null,"scale":{"type":"point","range":[991,991]}},"y":{"field":"category","type":"nominal","axis":null,"scale":{"type":"point","padding":0,"domain":["Property Tax","Insurance","Management Fees","Utilities","Other"],"range":[1279,1492]}},"text":{"field":"pct"}}},
{"data":{"values":[{"label":"Excludes mortgage & one-time capital costs."}]},"mark":{"type":"text","align":"left","baseline":"middle","fontSize":24.2,"color":"#334155"},"encoding":{"x":{"field":"label","type":"nominal","axis":null,"scale":{"range":[250,250]}},"y":{"field":"label","type":"nominal","axis":null,"scale":{"range":[1576,1576]}},"text":{"field":"label"}}},

{"data":{"values":[{"label":"Where Your Income Goes"}]},"mark":{"type":"text","align":"left","baseline":"alphabetic","fontSize":39.8,"fontWeight":600,"color":"#0f172a"},"encoding":{"x":{"field":"label","type":"nominal","axis":null,"scale":{"range":[1127,1127]}},"y":{"field":"label","type":"nominal","axis":null,"scale":{"range":[1016,1016]}},"text":{"field":"label"}}},
{"data":{"values":[{"name":"info"}]},"mark":{"type":"point","shape":"M-1,0C-1,-0.55 -0.55,-1 0,-1C0.55,-1 1,-0.55 1,0C1,0.55 0.55,1 0,1C-0.55,1 -1,0.55 -1,0ZM0,-0.05L0,0.5M0,-0.48L0,-0.42","size":576,"filled":false,"opacity":1,"stroke":"#1d4ed8","strokeWidth":2},"encoding":{"x":{"field":"name","type":"nominal","axis":null,"scale":{"range":[1642,1642]}},"y":{"field":"name","type":"nominal","axis":null,"scale":{"range":[1003,1003]}}}},
{"data":{"values":[{"label":"How gross income erodes to net after expenses, debt service."}]},"mark":{"type":"text","align":"left","baseline":"middle","fontSize":24.2,"color":"#334155"},"encoding":{"x":{"field":"label","type":"nominal","axis":null,"scale":{"range":[1127,1127]}},"y":{"field":"label","type":"nominal","axis":null,"scale":{"range":[1048,1048]}},"text":{"field":"label"}}},
{"encoding":{
"x":{"field":"step","type":"nominal","sort":null,"title":null,"scale":{"type":"band","domain":["Income","Expenses","Debt","Net"],"range":[1224,1882],"paddingInner":0.21,"paddingOuter":0.105},"axis":{"orient":"bottom","offset":-807,"zindex":1,"labelAngle":0,"labelPadding":36,"labelFontSize":22,"labelColor":"#475569","ticks":false,"domainColor":"#94a3b8","domainWidth":2}},
"y":{"type":"quantitative","title":null,"scale":{"domain":[-9.1,162],"range":[1525.4,1131.3],"nice":false,"zero":false}}},
"layer":[
{"data":{"values":[
{"step":"Income","high":152,"low":0,"delta":"+$152k"},
{"step":"Expenses","high":152,"low":96.1,"delta":"−$56.0k"},
{"step":"Debt","high":96.1,"low":38.9,"delta":"−$57.4k"},
{"step":"Net","high":38.9,"low":0,"delta":"+$39.0k"}]},
"encoding":{"y":{"field":"high","type":"quantitative","title":null,"scale":{"domain":[-9.1,162],"range":[1525.4,1131.3],"nice":false,"zero":false},"axis":{"orient":"left","offset":-1216,"zindex":1,"grid":false,"domain":false,"ticks":false,"labelPadding":8,"labelOffset":2.5,"labelFontSize":20,"labelColor":"#475569","values":[162,126,80.9,35.9,-9.1],"labelExpr":"(datum.value<0?'−':'')+'$'+(abs(datum.value)>=100?format(abs(datum.value),'.0f'):format(abs(datum.value),'.1f'))+'k'"}}},
"layer":[
{"mark":{"type":"bar","cornerRadius":6},"encoding":{"y2":{"field":"low"},"color":{"field":"step","type":"nominal","legend":null,"scale":{"domain":["Income","Expenses","Debt","Net"],"range":["#059669","#2563eb","#7c3aed","#059669"]}}}},
{"mark":{"type":"text","baseline":"middle","dy":-16,"fontSize":20.5,"fontWeight":500,"color":"#334155"},"encoding":{"text":{"field":"delta"}}}
]},
{"data":{"values":[
{"link":"a","step":"Income","level":152},{"link":"a","step":"Expenses","level":152},
{"link":"b","step":"Expenses","level":96.1},{"link":"b","step":"Debt","level":96.1},
{"link":"c","step":"Debt","level":38.9},{"link":"c","step":"Net","level":38.9}]},
"mark":{"type":"line","color":"#1e293b","strokeWidth":2,"strokeDash":[5,5]},"encoding":{"y":{"field":"level","type":"quantitative","title":null},"detail":{"field":"link"}}}
]},
{"data":{"values":[{"label":"Excludes $6,100 one-time capital invested this year"}]},"mark":{"type":"text","align":"left","baseline":"middle","fontSize":24.2,"color":"#1e293b"},"encoding":{"x":{"field":"label","type":"nominal","axis":null,"scale":{"range":[1127,1127]}},"y":{"field":"label","type":"nominal","axis":null,"scale":{"range":[1626,1626]}},"text":{"field":"label"}}},
{"data":{"values":[{"name":"info"}]},"mark":{"type":"point","shape":"M-1,0C-1,-0.55 -0.55,-1 0,-1C0.55,-1 1,-0.55 1,0C1,0.55 0.55,1 0,1C-0.55,1 -1,0.55 -1,0ZM0,-0.05L0,0.5M0,-0.48L0,-0.42","size":576,"filled":false,"opacity":1,"stroke":"#1d4ed8","strokeWidth":2},"encoding":{"x":{"field":"name","type":"nominal","axis":null,"scale":{"range":[1744,1744]}},"y":{"field":"name","type":"nominal","axis":null,"scale":{"range":[1626,1626]}}}},

{"data":{"values":[{"label":"Net Worth Trend"}]},"mark":{"type":"text","align":"left","baseline":"alphabetic","fontSize":39.6,"fontWeight":600,"color":"#0f172a"},"encoding":{"x":{"field":"label","type":"nominal","axis":null,"scale":{"range":[2013,2013]}},"y":{"field":"label","type":"nominal","axis":null,"scale":{"range":[1016,1016]}},"text":{"field":"label"}}},
{"data":{"values":[{"name":"info"}]},"mark":{"type":"point","shape":"M-1,0C-1,-0.55 -0.55,-1 0,-1C0.55,-1 1,-0.55 1,0C1,0.55 0.55,1 0,1C-0.55,1 -1,0.55 -1,0ZM0,-0.05L0,0.5M0,-0.48L0,-0.42","size":576,"filled":false,"opacity":1,"stroke":"#1d4ed8","strokeWidth":2},"encoding":{"x":{"field":"name","type":"nominal","axis":null,"scale":{"range":[2356,2356]}},"y":{"field":"name","type":"nominal","axis":null,"scale":{"range":[1003,1003]}}}},
{"data":{"values":[{"label":"Estimated portfolio value and your equity over time."}]},"mark":{"type":"text","align":"left","baseline":"middle","fontSize":24.2,"color":"#334155"},"encoding":{"x":{"field":"label","type":"nominal","axis":null,"scale":{"range":[2013,2013]}},"y":{"field":"label","type":"nominal","axis":null,"scale":{"range":[1048,1048]}},"text":{"field":"label"}}},
{"data":{"values":[{"name":"Est. value"}]},"mark":{"type":"circle","size":200,"color":"#2563eb","opacity":1},"encoding":{"x":{"field":"name","type":"nominal","axis":null,"scale":{"range":[2508,2508]}},"y":{"field":"name","type":"nominal","axis":null,"scale":{"range":[1122,1122]}}}},
{"data":{"values":[{"label":"Est. value"}]},"mark":{"type":"text","align":"left","baseline":"middle","fontSize":24,"fontWeight":500,"color":"#334155"},"encoding":{"x":{"field":"label","type":"nominal","axis":null,"scale":{"range":[2528,2528]}},"y":{"field":"label","type":"nominal","axis":null,"scale":{"range":[1122,1122]}},"text":{"field":"label"}}},
{"data":{"values":[{"name":"Equity"}]},"mark":{"type":"circle","size":200,"color":"#059669","opacity":1},"encoding":{"x":{"field":"name","type":"nominal","axis":null,"scale":{"range":[2672,2672]}},"y":{"field":"name","type":"nominal","axis":null,"scale":{"range":[1122,1122]}}}},
{"data":{"values":[{"label":"Equity"}]},"mark":{"type":"text","align":"left","baseline":"middle","fontSize":24,"fontWeight":500,"color":"#334155"},"encoding":{"x":{"field":"label","type":"nominal","axis":null,"scale":{"range":[2693,2693]}},"y":{"field":"label","type":"nominal","axis":null,"scale":{"range":[1122,1122]}},"text":{"field":"label"}}},
{"data":{"values":[{"tick":1.5},{"tick":3},{"tick":4.5},{"tick":6}]},"mark":{"type":"rule","color":"#d5dae5","strokeWidth":2},"encoding":{"x":{"datum":0,"type":"quantitative","axis":null,"scale":{"domain":[0,1],"range":[2116,2766]}},"x2":{"datum":1},"y":{"field":"tick","type":"quantitative","axis":null,"scale":{"domain":[0,6],"range":[1565.5,1154]}}}},
{"data":{"name":"networth"},
"encoding":{
"x":{"field":"date","type":"temporal","title":null,"scale":{"domain":["2021-01-15","2026-01-15"],"range":[2116,2766]},"axis":{"orient":"bottom","offset":-745.5,"zindex":1,"labelAngle":0,"grid":false,"labelFlush":false,"values":["2021-09-15","2023-04-30","2024-06-20","2026-01-15"],"format":"%b %y","labelPadding":3,"labelFontSize":20,"labelColor":"#475569","tickSize":12,"tickColor":"#666666","tickWidth":2,"domainColor":"#666666","domainWidth":2,"labelOffset":{"condition":{"test":"datum.value > 1760000000000","value":-17},"value":0}}},
"y":{"type":"quantitative","title":null,"scale":{"domain":[0,6],"range":[1565.5,1154],"nice":false}}},
"layer":[
{"mark":{"type":"area","interpolate":"monotone","fill":{"gradient":"linear","x1":0,"y1":0,"x2":0,"y2":1,"stops":[{"offset":0,"color":"rgba(37,99,235,0.24)"},{"offset":1,"color":"rgba(37,99,235,0.01)"}]}},"encoding":{"y":{"field":"value","type":"quantitative","title":null,"axis":{"orient":"left","offset":-2116,"zindex":1,"grid":false,"values":[0,1.5,3,4.5,6],"labelPadding":6,"labelFontSize":20,"labelColor":"#475569","tickSize":11,"tickColor":"#666666","tickWidth":2,"domainColor":"#666666","domainWidth":2,"labelBaseline":{"condition":{"test":"datum.value == 6","value":"top"},"value":"middle"},"labelExpr":"datum.value==0?'$0':'$'+format(datum.value,'.1f')+'M'"}}}},
{"mark":{"type":"area","interpolate":"monotone","fill":{"gradient":"linear","x1":0,"y1":0,"x2":0,"y2":1,"stops":[{"offset":0,"color":"rgba(5,150,105,0.10)"},{"offset":1,"color":"rgba(5,150,105,0.01)"}]}},"encoding":{"y":{"field":"equity","type":"quantitative","title":null}}},
{"mark":{"type":"line","interpolate":"monotone","color":"#2563eb","strokeWidth":4},"encoding":{"y":{"field":"value","type":"quantitative","title":null}}},
{"mark":{"type":"line","interpolate":"monotone","color":"#059669","strokeWidth":4},"encoding":{"y":{"field":"equity","type":"quantitative","title":null}}}
]},

{"data":{"values":[{"name":"Properties icon"}]},"mark":{"type":"rect","cornerRadius":20,"fill":"#e9ecf6","stroke":"#c3cce2","strokeWidth":2},"encoding":{"x":{"field":"name","type":"nominal","axis":null,"scale":{"type":"band","range":[209,263],"padding":0}},"y":{"field":"name","type":"nominal","axis":null,"scale":{"type":"band","range":[1764,1819],"padding":0}}}},
{"data":{"values":[{"name":"home"}]},"mark":{"type":"point","shape":"M-1,0L0,-1L1,0M-0.75,-0.1L-0.75,1L0.75,1L0.75,-0.1M-0.25,1L-0.25,0.3L0.25,0.3L0.25,1","size":484,"filled":false,"opacity":1,"stroke":"#1e3a8a","strokeWidth":2},"encoding":{"x":{"field":"name","type":"nominal","axis":null,"scale":{"range":[237,237]}},"y":{"field":"name","type":"nominal","axis":null,"scale":{"range":[1791,1791]}}}},
{"data":{"values":[{"label":"Properties"}]},"mark":{"type":"text","align":"left","baseline":"alphabetic","fontSize":40.4,"fontWeight":600,"color":"#1e3a8a"},"encoding":{"x":{"field":"label","type":"nominal","axis":null,"scale":{"range":[284,284]}},"y":{"field":"label","type":"nominal","axis":null,"scale":{"range":[1805,1805]}},"text":{"field":"label"}}},
{"data":{"values":[{"label":"Property Performance"}]},"mark":{"type":"text","align":"left","baseline":"middle","fontSize":30.4,"fontWeight":500,"color":"#1e293b"},"encoding":{"x":{"field":"label","type":"nominal","axis":null,"scale":{"range":[242,242]}},"y":{"field":"label","type":"nominal","axis":null,"scale":{"range":[1935,1935]}},"text":{"field":"label"}}},
{"data":{"values":[{"name":"info"}]},"mark":{"type":"point","shape":"M-1,0C-1,-0.55 -0.55,-1 0,-1C0.55,-1 1,-0.55 1,0C1,0.55 0.55,1 0,1C-0.55,1 -1,0.55 -1,0ZM0,-0.05L0,0.5M0,-0.48L0,-0.42","size":576,"filled":false,"opacity":1,"stroke":"#1d4ed8","strokeWidth":2},"encoding":{"x":{"field":"name","type":"nominal","axis":null,"scale":{"range":[591,591]}},"y":{"field":"name","type":"nominal","axis":null,"scale":{"range":[1934,1934]}}}},
{"data":{"values":[{"name":"collapse"}]},"mark":{"type":"point","shape":"M-1,0.5L0,-0.5L1,0.5","size":400,"filled":false,"opacity":1,"stroke":"#1e293b","strokeWidth":2.5},"encoding":{"x":{"field":"name","type":"nominal","axis":null,"scale":{"range":[644,644]}},"y":{"field":"name","type":"nominal","axis":null,"scale":{"range":[1934,1934]}}}},
{"data":{"values":[{"name":"sliders"}]},"mark":{"type":"point","shape":"M-1,-0.7L1,-0.7M-1,0L1,0M-1,0.7L1,0.7M0.3,-1L0.3,-0.4M-0.3,-0.3L-0.3,0.3M0.3,0.4L0.3,1","size":676,"filled":false,"opacity":1,"stroke":"#334155","strokeWidth":2.5},"encoding":{"x":{"field":"name","type":"nominal","axis":null,"scale":{"range":[2751,2751]}},"y":{"field":"name","type":"nominal","axis":null,"scale":{"range":[1934,1934]}}}},
{"data":{"values":[{"label":"SORT:"}]},"mark":{"type":"text","align":"left","baseline":"middle","fontSize":24,"fontWeight":500,"color":"#475569"},"encoding":{"x":{"field":"label","type":"nominal","axis":null,"scale":{"range":[242,242]}},"y":{"field":"label","type":"nominal","axis":null,"scale":{"range":[2033,2033]}},"text":{"field":"label"}}},
{"data":{"values":[{"name":"sort box"}]},"mark":{"type":"rect","cornerRadius":14,"fill":"#ffffff","stroke":"#94a3b8","strokeWidth":2},"encoding":{"x":{"field":"name","type":"nominal","axis":null,"scale":{"type":"band","range":[335,640],"padding":0}},"y":{"field":"name","type":"nominal","axis":null,"scale":{"type":"band","range":[2002,2065],"padding":0}}}},
{"data":{"values":[{"label":"NOI (highest first)"}]},"mark":{"type":"text","align":"left","baseline":"middle","fontSize":26,"color":"#1e293b"},"encoding":{"x":{"field":"label","type":"nominal","axis":null,"scale":{"range":[360,360]}},"y":{"field":"label","type":"nominal","axis":null,"scale":{"range":[2034,2034]}},"text":{"field":"label"}}},
{"data":{"values":[{"name":"sort chevron"}]},"mark":{"type":"point","shape":"M-1,-0.5L0,0.5L1,-0.5","size":196,"filled":false,"opacity":1,"stroke":"#1e293b","strokeWidth":2},"encoding":{"x":{"field":"name","type":"nominal","axis":null,"scale":{"range":[604,604]}},"y":{"field":"name","type":"nominal","axis":null,"scale":{"range":[2034,2034]}}}},
{"data":{"values":[{"label":"PROPERTY:"}]},"mark":{"type":"text","align":"left","baseline":"middle","fontSize":24,"fontWeight":500,"color":"#475569"},"encoding":{"x":{"field":"label","type":"nominal","axis":null,"scale":{"range":[666,666]}},"y":{"field":"label","type":"nominal","axis":null,"scale":{"range":[2033,2033]}},"text":{"field":"label"}}},
{"data":{"values":[{"name":"property box"}]},"mark":{"type":"rect","cornerRadius":14,"fill":"#ffffff","stroke":"#94a3b8","strokeWidth":2},"encoding":{"x":{"field":"name","type":"nominal","axis":null,"scale":{"type":"band","range":[823,1075],"padding":0}},"y":{"field":"name","type":"nominal","axis":null,"scale":{"type":"band","range":[2002,2065],"padding":0}}}},
{"data":{"values":[{"label":"All Properties"}]},"mark":{"type":"text","align":"left","baseline":"middle","fontSize":26,"color":"#1e293b"},"encoding":{"x":{"field":"label","type":"nominal","axis":null,"scale":{"range":[848,848]}},"y":{"field":"label","type":"nominal","axis":null,"scale":{"range":[2034,2034]}},"text":{"field":"label"}}},
{"data":{"values":[{"name":"property chevron"}]},"mark":{"type":"point","shape":"M-1,-0.5L0,0.5L1,-0.5","size":196,"filled":false,"opacity":1,"stroke":"#1e293b","strokeWidth":2},"encoding":{"x":{"field":"name","type":"nominal","axis":null,"scale":{"range":[1038,1038]}},"y":{"field":"name","type":"nominal","axis":null,"scale":{"range":[2034,2034]}}}},
{"data":{"values":[{"name":"rule 1"}]},"mark":{"type":"rect","fill":"#94a3b8"},"encoding":{"x":{"field":"name","type":"nominal","axis":null,"scale":{"type":"band","range":[209,2814],"padding":0}},"y":{"field":"name","type":"nominal","axis":null,"scale":{"type":"band","range":[2086,2088],"padding":0}}}},
{"data":{"values":[{"name":"rule 2"}]},"mark":{"type":"rect","fill":"#94a3b8"},"encoding":{"x":{"field":"name","type":"nominal","axis":null,"scale":{"type":"band","range":[209,2814],"padding":0}},"y":{"field":"name","type":"nominal","axis":null,"scale":{"type":"band","range":[2156,2158],"padding":0}}}},
{"data":{"values":[{"name":"rule 3"}]},"mark":{"type":"rect","fill":"#94a3b8"},"encoding":{"x":{"field":"name","type":"nominal","axis":null,"scale":{"type":"band","range":[209,2814],"padding":0}},"y":{"field":"name","type":"nominal","axis":null,"scale":{"type":"band","range":[2288,2290],"padding":0}}}},
{"data":{"values":[{"label":"PROPERTY"}]},"mark":{"type":"text","align":"left","baseline":"middle","fontSize":24.5,"fontWeight":500,"color":"#475569"},"encoding":{"x":{"field":"label","type":"nominal","axis":null,"scale":{"range":[242,242]}},"y":{"field":"label","type":"nominal","axis":null,"scale":{"range":[2119,2119]}},"text":{"field":"label"}}},
{"data":{"values":[{"label":"REVENUE"}]},"mark":{"type":"text","align":"left","baseline":"middle","fontSize":24.5,"fontWeight":500,"color":"#475569"},"encoding":{"x":{"field":"label","type":"nominal","axis":null,"scale":{"range":[885,885]}},"y":{"field":"label","type":"nominal","axis":null,"scale":{"range":[2119,2119]}},"text":{"field":"label"}}},
{"data":{"values":[{"label":"EXPENSES"}]},"mark":{"type":"text","align":"left","baseline":"middle","fontSize":24.5,"fontWeight":500,"color":"#475569"},"encoding":{"x":{"field":"label","type":"nominal","axis":null,"scale":{"range":[1174,1174]}},"y":{"field":"label","type":"nominal","axis":null,"scale":{"range":[2119,2119]}},"text":{"field":"label"}}},
{"data":{"values":[{"label":"NOI"}]},"mark":{"type":"text","align":"left","baseline":"middle","fontSize":24.5,"fontWeight":500,"color":"#475569"},"encoding":{"x":{"field":"label","type":"nominal","axis":null,"scale":{"range":[1454,1454]}},"y":{"field":"label","type":"nominal","axis":null,"scale":{"range":[2119,2119]}},"text":{"field":"label"}}},
{"data":{"values":[{"label":"12-MO NOI"}]},"mark":{"type":"text","align":"left","baseline":"middle","fontSize":24.5,"fontWeight":500,"color":"#475569"},"encoding":{"x":{"field":"label","type":"nominal","axis":null,"scale":{"range":[1715,1715]}},"y":{"field":"label","type":"nominal","axis":null,"scale":{"range":[2119,2119]}},"text":{"field":"label"}}},
{"data":{"values":[{"label":"HEALTH"}]},"mark":{"type":"text","align":"left","baseline":"middle","fontSize":24.5,"fontWeight":500,"color":"#475569"},"encoding":{"x":{"field":"label","type":"nominal","axis":null,"scale":{"range":[2215,2215]}},"y":{"field":"label","type":"nominal","axis":null,"scale":{"range":[2119,2119]}},"text":{"field":"label"}}},
{"data":{"values":[{"label":"Coastal Bungalow — 30A"}]},"mark":{"type":"text","align":"left","baseline":"middle","fontSize":28.3,"fontWeight":500,"color":"#0f172a"},"encoding":{"x":{"field":"label","type":"nominal","axis":null,"scale":{"range":[242,242]}},"y":{"field":"label","type":"nominal","axis":null,"scale":{"range":[2222,2222]}},"text":{"field":"label"}}},
{"data":{"values":[{"label":"$32,346"}]},"mark":{"type":"text","align":"left","baseline":"middle","fontSize":28,"fontWeight":600,"color":"#0f172a"},"encoding":{"x":{"field":"label","type":"nominal","axis":null,"scale":{"range":[885,885]}},"y":{"field":"label","type":"nominal","axis":null,"scale":{"range":[2222,2222]}},"text":{"field":"label"}}},
{"data":{"values":[{"label":"$11,686"}]},"mark":{"type":"text","align":"left","baseline":"middle","fontSize":28,"fontWeight":600,"color":"#0f172a"},"encoding":{"x":{"field":"label","type":"nominal","axis":null,"scale":{"range":[1174,1174]}},"y":{"field":"label","type":"nominal","axis":null,"scale":{"range":[2222,2222]}},"text":{"field":"label"}}},
{"data":{"values":[{"label":"$20,661"}]},"mark":{"type":"text","align":"left","baseline":"middle","fontSize":28,"fontWeight":600,"color":"#0f172a"},"encoding":{"x":{"field":"label","type":"nominal","axis":null,"scale":{"range":[1454,1454]}},"y":{"field":"label","type":"nominal","axis":null,"scale":{"range":[2222,2222]}},"text":{"field":"label"}}},
{"data":{"values":[
{"month":1,"noi":13},{"month":2,"noi":16},{"month":3,"noi":22},{"month":4,"noi":28},{"month":5,"noi":33},{"month":6,"noi":37},{"month":7,"noi":28},{"month":8,"noi":3},{"month":9,"noi":2},{"month":10,"noi":2},{"month":11,"noi":4},{"month":12,"noi":6}]},
"encoding":{"x":{"field":"month","type":"quantitative","axis":null,"scale":{"domain":[1,12],"range":[1721,1992]}},"y":{"field":"noi","type":"quantitative","axis":null,"scale":{"domain":[0,40],"range":[2240,2200]}}},
"layer":[
{"mark":{"type":"line","interpolate":"monotone","color":"#dc2626","strokeWidth":3}},
{"transform":[{"filter":"datum.month==12"}],"mark":{"type":"circle","size":90,"color":"#dc2626","opacity":1}}
]},
{"data":{"values":[{"part":"score","amount":86,"rank":1},{"part":"rest","amount":14,"rank":2}]},"mark":{"type":"arc","radius":40,"radius2":32},"encoding":{"theta":{"field":"amount","type":"quantitative","scale":{"domain":[0,100],"range":[0,6.2832]}},"order":{"field":"rank"},"color":{"field":"part","type":"nominal","legend":null,"scale":{"domain":["score","rest"],"range":["#047857","#cbd5e1"]}},"x":{"field":"part","type":"nominal","axis":null,"scale":{"type":"point","range":[2264,2264]}},"y":{"field":"part","type":"nominal","axis":null,"scale":{"type":"point","range":[2222,2222]}}}},
{"data":{"values":[{"label":"86"}]},"mark":{"type":"text","align":"center","baseline":"middle","fontSize":28,"fontWeight":700,"color":"#047857"},"encoding":{"x":{"field":"label","type":"nominal","axis":null,"scale":{"range":[2264,2264]}},"y":{"field":"label","type":"nominal","axis":null,"scale":{"range":[2220,2220]}},"text":{"field":"label"}}},
{"data":{"values":[{"name":"document"}]},"mark":{"type":"point","shape":"M-0.7,-1L0.3,-1L0.7,-0.55L0.7,1L-0.7,1ZM0.3,-1L0.3,-0.55L0.7,-0.55","size":484,"filled":false,"opacity":1,"stroke":"#1e3a8a","strokeWidth":2},"encoding":{"x":{"field":"name","type":"nominal","axis":null,"scale":{"range":[2483,2483]}},"y":{"field":"name","type":"nominal","axis":null,"scale":{"range":[2222,2222]}}}},
{"data":{"values":[{"name":"chart"}]},"mark":{"type":"point","shape":"M-0.9,-1L-0.9,1L1,1M-0.4,1L-0.4,0.1M0.1,1L0.1,0.4M0.6,1L0.6,-0.1","size":484,"filled":false,"opacity":1,"stroke":"#1e3a8a","strokeWidth":2},"encoding":{"x":{"field":"name","type":"nominal","axis":null,"scale":{"range":[2554,2554]}},"y":{"field":"name","type":"nominal","axis":null,"scale":{"range":[2222,2222]}}}},
{"data":{"values":[{"name":"house"}]},"mark":{"type":"point","shape":"M-1,0L0,-1L1,0M-0.75,-0.1L-0.75,1L0.75,1L0.75,-0.1M-0.25,1L-0.25,0.3L0.25,0.3L0.25,1","size":484,"filled":false,"opacity":1,"stroke":"#1e3a8a","strokeWidth":2},"encoding":{"x":{"field":"name","type":"nominal","axis":null,"scale":{"range":[2626,2626]}},"y":{"field":"name","type":"nominal","axis":null,"scale":{"range":[2222,2222]}}}}
]}
